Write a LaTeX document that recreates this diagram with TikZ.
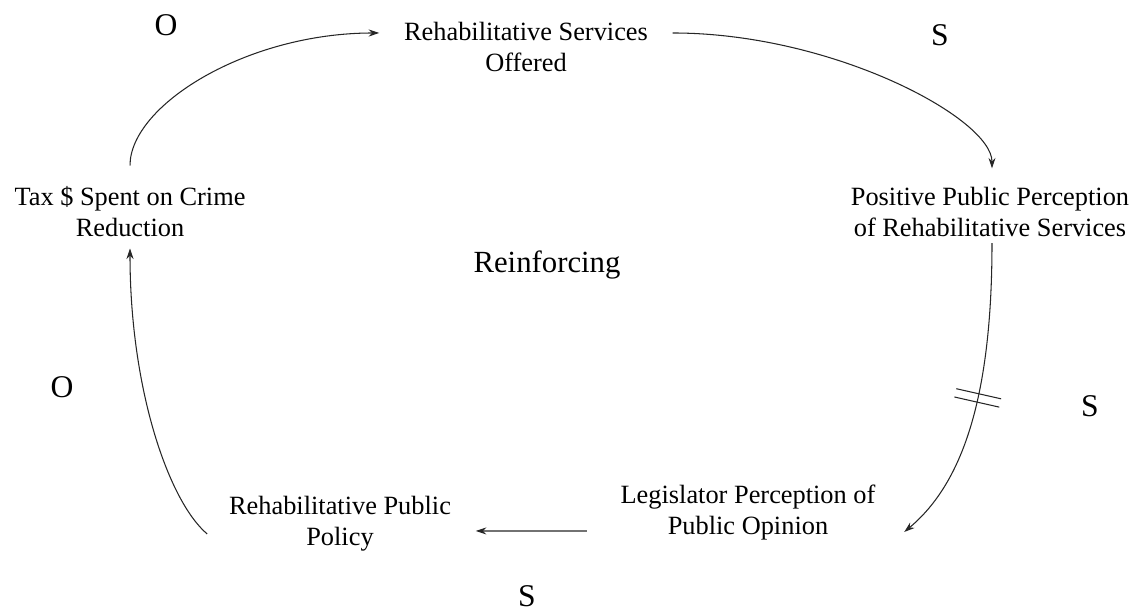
\documentclass[tikz,border=0pt]{standalone}
\usepackage{fontspec}
\setmainfont{Liberation Serif}
\usepackage{tikz}
\usetikzlibrary{arrows.meta, decorations.markings}

\begin{document}
\begin{tikzpicture}[
  var/.style={align=center, inner sep=2pt, font=\fontsize{15}{17.6}\selectfont},
  pol/.style={font=\fontsize{18}{20}\selectfont},
  flow/.style={->, line width=0.6pt, black!85},
  delay/.style={postaction={decorate, decoration={markings,
      mark=at position #1 with {
        \draw[-, line width=0.6pt, black!85] (-0.085,-0.46) -- (-0.085,0.46);
        \draw[-, line width=0.6pt, black!85] (0.085,-0.46) -- (0.085,0.46);}}}},
  >={Stealth[length=6pt, width=4pt]}
]
  \useasboundingbox (0,0) rectangle (22.82,12.22);

  % ── variables ──
  \node[var] (rso) at (10.52, 11.28) {Rehabilitative Services\\Offered};
  \node[var] (ppp) at (19.80, 7.98) {Positive Public Perception\\of Rehabilitative Services};
  \node[var] (lpp) at (14.96, 1.96) {Legislator Perception of\\Public Opinion};
  \node[var] (rpp) at (6.80, 1.74) {Rehabilitative Public\\Policy};
  \node[var] (tax) at (2.60, 7.98) {Tax \$ Spent on Crime\\Reduction};

  \node[font=\fontsize{17.5}{20}\selectfont] (loop) at (10.94, 6.92) {Reinforcing};

  % ── polarities ──
  \node[pol] (p1) at (3.32, 11.72) {O};
  \node[pol] (p2) at (18.80, 11.52) {S};
  \node[pol] (p3) at (21.80, 4.10) {S};
  \node[pol] (p4) at (10.54, 0.30) {S};
  \node[pol] (p5) at (1.24, 4.48) {O};

  % ── links ──
  \draw[flow] ([yshift=0.35cm]tax.north) .. controls +(0,1.2) and +(-2.66,0) ..
    ([xshift=-0.42cm, yshift=0.28cm]rso.west);
  \draw[flow] ([xshift=0.42cm, yshift=0.28cm]rso.east) .. controls +(3.2,0) and +(0,1.0) ..
    ([xshift=0.04cm, yshift=0.3cm]ppp.north);
  \draw[flow, delay=0.5] ([xshift=0.04cm, yshift=-0.05cm]ppp.south) .. controls +(0,-3.0) and +(1.2,1.0) ..
    ([xshift=0.5cm, yshift=-0.38cm]lpp.east);
  \draw[flow] ([xshift=-0.6cm, yshift=-0.36cm]lpp.west) --
    ([xshift=0.42cm, yshift=-0.14cm]rpp.east);
  \draw[flow] ([xshift=-0.36cm, yshift=-0.2cm]rpp.west) .. controls +(-0.76,0.64) and +(0,-2.84) ..
    ([yshift=-0.15cm]tax.south);
\end{tikzpicture}
\end{document}
